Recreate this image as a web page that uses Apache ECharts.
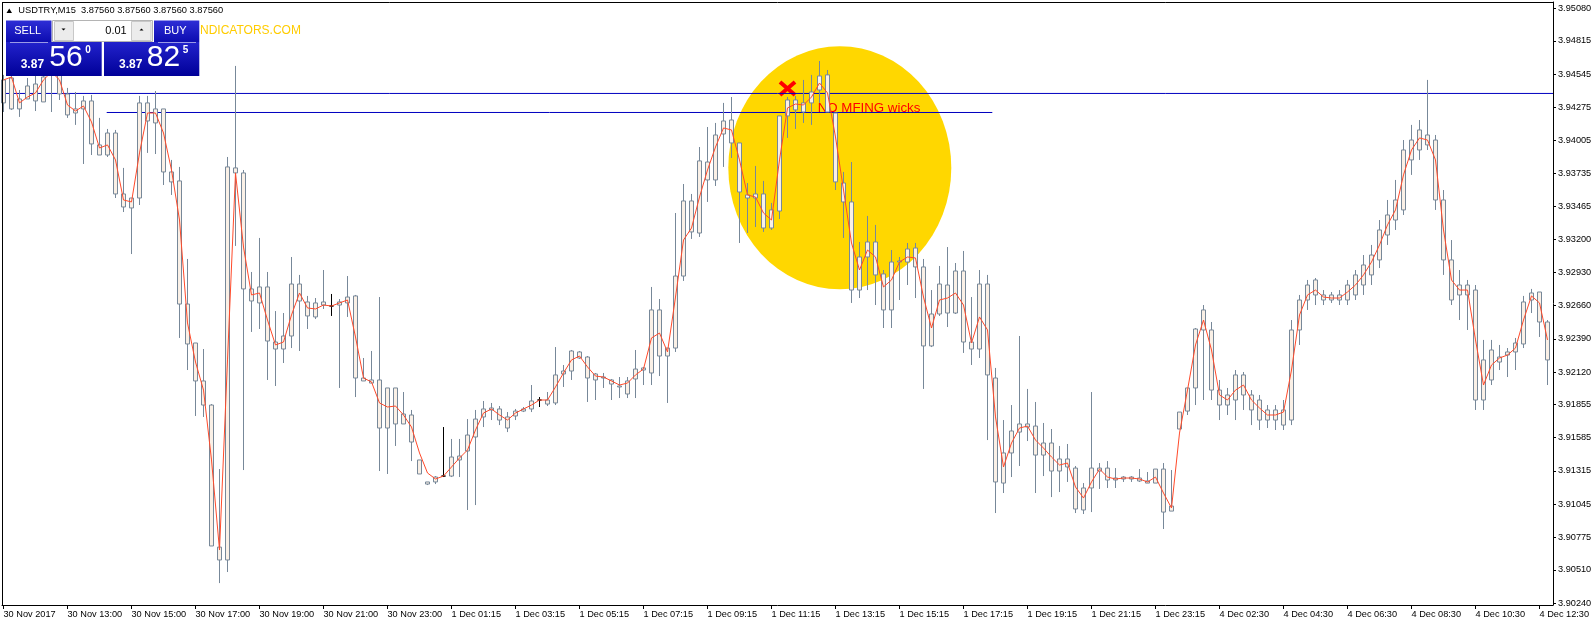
<!DOCTYPE html>
<html><head><meta charset="utf-8">
<script src="https://cdn.jsdelivr.net/npm/echarts@6.0.0/dist/echarts.min.js"></script>
<style>html,body{margin:0;padding:0;background:#fff}#c{width:1596px;height:626px}</style>
</head><body><div id="c"></div>
<script>
const opens = [3.94310,3.94261,3.94261,3.94448,3.94326,3.94318,3.94619,3.94383,3.94383,3.94228,
3.94261,3.94326,3.93886,3.93886,3.94065,3.93569,3.93455,3.93536,3.94310,3.94147,
3.94261,3.93667,3.93675,3.92673,3.92356,3.92047,3.91851,3.90695,3.90590,3.93781,
3.93740,3.92796,3.92682,3.92812,3.92364,3.92307,3.92413,3.92836,3.92690,3.92568,
3.92690,3.92657,3.92665,3.92682,3.92739,3.92047,3.92055,3.92055,3.91664,3.91990,
3.91697,3.91770,3.91404,3.91225,3.91225,3.91273,3.91273,3.91404,3.91477,3.91591,
3.91754,3.91811,3.91819,3.91664,3.91762,3.91802,3.91819,3.91892,3.91859,3.91868,
3.92104,3.92128,3.92283,3.92242,3.92055,3.92071,3.92055,3.92006,3.91941,3.92063,
3.92136,3.92112,3.92625,3.92250,3.92315,3.92901,3.93512,3.93251,3.93829,3.93683,
3.94057,3.94171,3.93984,3.93536,3.93569,3.93569,3.93292,3.93430,3.94204,3.94334,
3.94236,3.94310,3.94415,3.94538,3.94228,3.93658,3.93504,3.92787,3.93056,3.93178,
3.92918,3.92625,3.93015,3.93015,3.93129,3.92975,3.92332,3.92592,3.92828,3.92600,
3.92942,3.92307,3.92307,3.92836,3.92071,3.91216,3.91461,3.91631,3.91697,3.91680,
3.91444,3.91542,3.91314,3.91412,3.91338,3.90997,3.91176,3.91314,3.91338,3.91241,
3.91249,3.91265,3.91257,3.91233,3.91216,3.91330,3.90988,3.91656,3.91802,3.91990,
3.92462,3.92462,3.91973,3.91851,3.91892,3.92096,3.91933,3.91892,3.91729,3.91811,
3.91688,3.91729,3.92462,3.92706,3.92869,3.92747,3.92706,3.92747,3.92706,3.92747,
3.92828,3.92910,3.93032,3.93235,3.93357,3.93439,3.93846,3.93927,3.94049,3.94008,
3.93520,3.93032,3.92747,3.92828,3.92787,3.91892,3.92055,3.92242,3.92258,3.92283,
3.92348,3.92706,3.92771,3.92527];
const closes = [3.94497,3.94513,3.94342,3.94342,3.94464,3.94521,3.94538,3.94538,3.94212,3.94261,
3.94326,3.93976,3.93968,3.94065,3.93569,3.93463,3.93536,3.94310,3.94163,3.94261,
3.93748,3.93748,3.92673,3.92348,3.92047,3.91851,3.90704,3.90590,3.93789,3.93740,
3.92796,3.92698,3.92812,3.92372,3.92307,3.92413,3.92836,3.92698,3.92576,3.92682,
3.92665,3.92657,3.92690,3.92730,3.92071,3.92071,3.92030,3.91664,3.91990,3.91697,
3.91778,3.91550,3.91290,3.91208,3.91265,3.91273,3.91428,3.91436,3.91607,3.91737,
3.91819,3.91827,3.91729,3.91754,3.91802,3.91819,3.91884,3.91892,3.91892,3.92096,
3.92128,3.92291,3.92234,3.92071,3.92104,3.92079,3.92022,3.91998,3.92047,3.92144,
3.92153,3.92625,3.92250,3.92315,3.92901,3.93512,3.93260,3.93838,3.93683,3.94049,
3.94163,3.93984,3.93585,3.93561,3.93536,3.93292,3.93439,3.94204,3.94334,3.94253,
3.94310,3.94399,3.94529,3.94236,3.93667,3.93504,3.92787,3.93056,3.93178,3.92910,
3.92625,3.93015,3.93023,3.93121,3.92975,3.92332,3.92592,3.92836,3.92600,3.92942,
3.92364,3.92364,3.92836,3.92096,3.91225,3.91461,3.91640,3.91697,3.91672,3.91444,
3.91542,3.91314,3.91412,3.91347,3.91005,3.91176,3.91338,3.91338,3.91241,3.91257,
3.91265,3.91249,3.91233,3.91216,3.91330,3.90980,3.91029,3.91794,3.91990,3.92470,
3.92625,3.91973,3.91851,3.91933,3.92096,3.91933,3.91811,3.91729,3.91811,3.91729,
3.91811,3.92462,3.92706,3.92828,3.92747,3.92706,3.92747,3.92706,3.92828,3.92910,
3.92991,3.93072,3.93276,3.93398,3.93520,3.93927,3.94008,3.94090,3.93968,3.93520,
3.93032,3.92706,3.92828,3.92747,3.91892,3.92218,3.92299,3.92201,3.92283,3.92356,
3.92690,3.92763,3.92527,3.92218];
const lows = [3.94236,3.94253,3.94196,3.94342,3.94244,3.94318,3.94236,3.94334,3.94188,3.94131,
3.93813,3.93886,3.93886,3.93870,3.93536,3.93422,3.93080,3.93479,3.93903,3.93894,
3.93642,3.93561,3.92397,3.92136,3.91762,3.91754,3.90704,3.90402,3.90492,3.93146,
3.91322,3.92446,3.92470,3.92055,3.92006,3.92193,3.92315,3.92291,3.92470,3.92551,
3.92633,3.92576,3.91990,3.92568,3.91916,3.92047,3.92030,3.91314,3.91290,3.91518,
3.91697,3.91395,3.91290,3.91200,3.91208,3.91265,3.91265,3.91265,3.90997,3.91037,
3.91672,3.91729,3.91688,3.91631,3.91729,3.91794,3.91794,3.91835,3.91843,3.91851,
3.91998,3.92055,3.92226,3.91876,3.91892,3.91990,3.91892,3.91908,3.91908,3.91908,
3.92014,3.92014,3.92087,3.91868,3.92283,3.92861,3.93203,3.93219,3.93504,3.93634,
3.93789,3.93862,3.93170,3.93251,3.93300,3.93260,3.93276,3.93365,3.94025,3.94098,
3.94147,3.94131,3.94310,3.94236,3.93601,3.93211,3.92682,3.92722,3.92787,3.92665,
3.92478,3.92478,3.92706,3.92828,3.92722,3.91982,3.92323,3.92576,3.92486,3.92592,
3.92275,3.92177,3.92234,3.91566,3.90972,3.91135,3.91265,3.91355,3.91558,3.91135,
3.91273,3.91102,3.91143,3.91225,3.90972,3.90964,3.90980,3.91168,3.91176,3.91176,
3.91225,3.91225,3.91225,3.91216,3.91216,3.90842,3.90988,3.91656,3.91770,3.91851,
3.91892,3.91892,3.91729,3.91770,3.91729,3.91811,3.91688,3.91648,3.91664,3.91648,
3.91648,3.91688,3.92340,3.92625,3.92665,3.92665,3.92682,3.92665,3.92665,3.92706,
3.92747,3.92828,3.92966,3.93154,3.93276,3.93398,3.93724,3.93846,3.93927,3.93439,
3.92910,3.92665,3.92543,3.92462,3.91811,3.91811,3.92014,3.92136,3.92079,3.92136,
3.92315,3.92600,3.92405,3.92014];
const highs = [3.94538,3.94562,3.94415,3.94513,3.94529,3.94578,3.94660,3.94578,3.94432,3.94399,
3.94367,3.94375,3.94188,3.94098,3.94090,3.93781,3.93536,3.94367,3.94367,3.94407,
3.94261,3.93846,3.93789,3.93040,3.92356,3.92307,3.91859,3.91330,3.93870,3.94611,
3.93764,3.92934,3.93211,3.92934,3.92616,3.92600,3.93056,3.92910,3.92739,3.92722,
3.92950,3.92755,3.92714,3.92901,3.92747,3.92234,3.92291,3.92730,3.91990,3.91990,
3.91957,3.91811,3.91404,3.91225,3.91273,3.91672,3.91575,3.91575,3.91737,3.91811,
3.91884,3.91868,3.91843,3.91794,3.91819,3.91835,3.92014,3.91916,3.91957,3.92323,
3.92177,3.92299,3.92291,3.92250,3.92112,3.92112,3.92063,3.92079,3.92079,3.92299,
3.92161,3.92812,3.92714,3.92315,3.93414,3.93650,3.93569,3.93951,3.94114,3.94147,
3.94310,3.94358,3.93984,3.93658,3.93797,3.93675,3.93496,3.94204,3.94358,3.94367,
3.94497,3.94538,3.94651,3.94578,3.94228,3.93748,3.93829,3.93178,3.93390,3.93317,
3.92950,3.93113,3.93056,3.93170,3.93170,3.93040,3.92787,3.92983,3.93137,3.93007,
3.93105,3.92730,3.92950,3.92910,3.92153,3.91729,3.91851,3.92413,3.91982,3.91876,
3.91705,3.91656,3.91518,3.91534,3.91355,3.91216,3.91957,3.91379,3.91395,3.91338,
3.91273,3.91273,3.91330,3.91306,3.91330,3.91379,3.91322,3.91794,3.91990,3.92478,
3.92665,3.92527,3.92055,3.91990,3.92136,3.92120,3.91973,3.91933,3.91851,3.91851,
3.91892,3.92543,3.92747,3.92869,3.92885,3.92787,3.92771,3.92787,3.92869,3.92950,
3.93072,3.93154,3.93357,3.93520,3.93683,3.94008,3.94131,3.94171,3.94497,3.94049,
3.93601,3.93194,3.92950,3.92869,3.92828,3.92381,3.92381,3.92340,3.92315,3.92397,
3.92739,3.92796,3.92771,3.92543];
const maValues = [3.94497,3.94521,3.94310,3.94358,3.94391,3.94497,3.94562,3.94497,3.94293,3.94244,
3.94285,3.94155,3.93943,3.93968,3.93846,3.93520,3.93504,3.93903,3.94228,3.94228,
3.94065,3.93764,3.93357,3.92519,3.92201,3.91973,3.91404,3.90671,3.92218,3.93740,
3.93137,3.92747,3.92763,3.92543,3.92340,3.92364,3.92584,3.92763,3.92641,3.92633,
3.92665,3.92657,3.92682,3.92706,3.92405,3.92071,3.92039,3.91868,3.91835,3.91843,
3.91770,3.91672,3.91461,3.91298,3.91249,3.91273,3.91347,3.91420,3.91485,3.91648,
3.91786,3.91819,3.91770,3.91729,3.91786,3.91819,3.91851,3.91892,3.91892,3.91998,
3.92112,3.92218,3.92250,3.92161,3.92087,3.92079,3.92047,3.92014,3.92030,3.92096,
3.92144,3.92397,3.92437,3.92283,3.92730,3.93194,3.93292,3.93544,3.93764,3.93951,
3.94106,3.94090,3.93846,3.93561,3.93544,3.93414,3.93357,3.93846,3.94269,3.94301,
3.94293,3.94358,3.94472,3.94391,3.94033,3.93601,3.93170,3.92950,3.93113,3.93056,
3.92812,3.92869,3.93015,3.93056,3.93048,3.92730,3.92478,3.92706,3.92722,3.92763,
3.92665,3.92356,3.92568,3.92462,3.91754,3.91347,3.91542,3.91664,3.91680,3.91566,
3.91501,3.91428,3.91363,3.91379,3.91184,3.91094,3.91225,3.91330,3.91265,3.91249,
3.91257,3.91257,3.91249,3.91225,3.91265,3.91135,3.91013,3.91623,3.91973,3.92340,
3.92543,3.92299,3.91933,3.91892,3.91973,3.92014,3.91892,3.91827,3.91770,3.91770,
3.91794,3.92136,3.92584,3.92747,3.92787,3.92730,3.92722,3.92722,3.92771,3.92828,
3.92910,3.93015,3.93154,3.93317,3.93439,3.93724,3.93927,3.94025,3.94008,3.93846,
3.93276,3.92869,3.92787,3.92787,3.92381,3.92014,3.92177,3.92234,3.92258,3.92315,
3.92543,3.92739,3.92682,3.92381];
const priceTicks = [3.90240,3.90510,3.90775,3.91045,3.91315,3.91585,3.91855,3.92120,3.92390,3.92660,
3.92930,3.93200,3.93465,3.93735,3.94005,3.94275,3.94545,3.94815,3.95080];
const timeLabels = ['30 Nov 2017','30 Nov 13:00','30 Nov 15:00','30 Nov 17:00','30 Nov 19:00','30 Nov 21:00',
'30 Nov 23:00','1 Dec 01:15','1 Dec 03:15','1 Dec 05:15','1 Dec 07:15','1 Dec 09:15','1 Dec 11:15',
'1 Dec 13:15','1 Dec 15:15','1 Dec 17:15','1 Dec 19:15','1 Dec 21:15','1 Dec 23:15','4 Dec 02:30',
'4 Dec 04:30','4 Dec 06:30','4 Dec 08:30','4 Dec 10:30','4 Dec 12:30'];
const barsPerLabel = 8;
const hLinePrice = 3.94387;
const trendPrice = 3.94232;
const trendStartBar = 12.9, trendEndBar = 123.6;

const X_MIN = -0.1875, X_MAX = 193.6875;
const Y_MIN = 3.902236, Y_MAX = 3.951313;
const FONT = '"Liberation Sans", Arial, sans-serif';

const tickIdx = timeLabels.map((_, i) => i * barsPerLabel);
const candleData = opens.map((o, i) => [i, o, closes[i], lows[i], highs[i]]);
const maData = maValues.map((v, i) => [i, v]);

const chart = echarts.init(document.getElementById('c'), null, {renderer: 'canvas'});
const grad = (a, b) => new echarts.graphic.LinearGradient(0, 0, 0, 1, [{offset: 0, color: a}, {offset: 1, color: b}]);
const txt = (x, y, text, size, opts) => Object.assign({
  type: 'text', x, y, z: 20,
  style: Object.assign({text, fill: '#fff', fontSize: size, fontFamily: FONT, verticalAlign: 'middle', align: 'left'}, (opts && opts.style) || {})
}, opts && opts.z ? {z: opts.z} : {});

chart.setOption({
  backgroundColor: '#ffffff',
  animation: false,
  grid: {left: 2, right: 43, top: 2, bottom: 21, show: false},
  xAxis: {
    type: 'value', min: X_MIN, max: X_MAX,
    axisLine: {show: true, onZero: false, lineStyle: {color: '#000', width: 1}},
    axisTick: {show: true, inside: false, length: 4, customValues: tickIdx, lineStyle: {color: '#000'}},
    axisLabel: {show: true, customValues: tickIdx, margin: 5, align: 'left', color: '#000', fontSize: 9.2, fontFamily: FONT,
      formatter: v => timeLabels[Math.round(v / barsPerLabel)] || ''},
    splitLine: {show: false}
  },
  yAxis: {
    type: 'value', position: 'right', min: Y_MIN, max: Y_MAX, scale: true,
    axisLine: {show: true, onZero: false, lineStyle: {color: '#000', width: 1}},
    axisTick: {show: true, inside: false, length: 3, customValues: priceTicks, lineStyle: {color: '#000'}},
    axisLabel: {show: true, customValues: priceTicks, margin: 5, color: '#000', fontSize: 9.2, fontFamily: FONT,
      formatter: v => v.toFixed(5)},
    splitLine: {show: false}
  },
  series: [
    {type: 'line', name: 'hline', z: 1, silent: true, symbol: 'none', data: [[X_MIN, hLinePrice], [X_MAX, hLinePrice]],
      lineStyle: {color: '#0000c0', width: 1}},
    {type: 'line', name: 'trend', z: 1, silent: true, symbol: 'none', data: [[trendStartBar, trendPrice], [trendEndBar, trendPrice]],
      lineStyle: {color: '#0000c0', width: 1}},
    {type: 'candlestick', name: 'USDTRY', z: 2, barWidth: 4, data: candleData, encode: {x: 0, y: [1, 2, 3, 4]},
      itemStyle: {color: '#faf0e6', color0: '#faf0e6', borderColor: '#778899', borderColor0: '#778899', borderColorDoji: '#000000', borderWidth: 1}},
    {type: 'line', name: 'MA', z: 3, silent: true, symbol: 'none', showSymbol: false, data: maData,
      lineStyle: {color: '#ff4a2a', width: 1}}
  ],
  graphic: [
    {type: 'circle', x: 839.8, y: 167.7, scaleY: 1.09, z: 0, silent: true, shape: {cx: 0, cy: 0, r: 111.5}, style: {fill: '#ffd700'}},
    {type: 'line', z: 1, shape: {x1: 780, y1: 82, x2: 795, y2: 95}, style: {stroke: '#ff0000', lineWidth: 4}},
    {type: 'line', z: 1, shape: {x1: 795, y1: 82, x2: 780, y2: 95}, style: {stroke: '#ff0000', lineWidth: 4}},
    {type: 'text', x: 817.7, y: 108.7, z: 1, style: {text: 'NO MFING wicks', fill: '#ff0000', fontSize: 13.3, fontFamily: FONT, verticalAlign: 'middle'}},
    {type: 'line', z: 5, shape: {x1: 2.5, y1: 2, x2: 2.5, y2: 606}, style: {stroke: '#000', lineWidth: 1}},
    {type: 'line', z: 5, shape: {x1: 2, y1: 2.5, x2: 1553, y2: 2.5}, style: {stroke: '#000', lineWidth: 1}},
    {type: 'polygon', z: 20, shape: {points: [[6.5, 13], [12, 13], [9.25, 8.5]]}, style: {fill: '#000'}},
    txt(18.3, 10.3, 'USDTRY,M15  3.87560 3.87560 3.87560 3.87560', 9.3, {style: {fill: '#000'}}),
    txt(200, 30.5, 'NDICATORS.COM', 12, {style: {fill: '#ffcc00'}}),
    {type: 'rect', z: 19, shape: {x: 6, y: 20.5, width: 45.5, height: 21.5}, style: {fill: grad('#2e2ed6', '#0c0cb0')}},
    {type: 'rect', z: 19, shape: {x: 154, y: 20.5, width: 45.3, height: 21.5}, style: {fill: grad('#2e2ed6', '#0c0cb0')}},
    {type: 'rect', z: 19, shape: {x: 52.5, y: 20.5, width: 100, height: 21}, style: {fill: '#fff', stroke: '#b4b4b4', lineWidth: 1}},
    {type: 'rect', z: 19, shape: {x: 54.5, y: 21.5, width: 19, height: 19}, style: {fill: '#ececec', stroke: '#c8c8c8', lineWidth: 1}},
    {type: 'rect', z: 19, shape: {x: 131.5, y: 21.5, width: 19.5, height: 19}, style: {fill: '#ececec', stroke: '#c8c8c8', lineWidth: 1}},
    {type: 'polygon', z: 20, shape: {points: [[61.5, 28.5], [65.5, 28.5], [63.5, 30.5]]}, style: {fill: '#000'}},
    {type: 'polygon', z: 20, shape: {points: [[139.5, 30.5], [143.5, 30.5], [141.5, 28.5]]}, style: {fill: '#000'}},
    txt(126.7, 30.5, '0.01', 11, {style: {fill: '#000', align: 'right'}}),
    txt(27.7, 31, 'SELL', 11, {style: {align: 'center'}}),
    txt(175.2, 31, 'BUY', 11, {style: {align: 'center'}}),
    {type: 'rect', z: 19, shape: {x: 6, y: 42, width: 95.7, height: 34}, style: {fill: grad('#2222cc', '#000098')}},
    {type: 'rect', z: 19, shape: {x: 104, y: 42, width: 95.3, height: 34}, style: {fill: grad('#2222cc', '#000098')}},
    {type: 'line', z: 20, shape: {x1: 10, y1: 42.5, x2: 48, y2: 42.5}, style: {stroke: '#9a9ae6', lineWidth: 1}},
    {type: 'line', z: 20, shape: {x1: 158, y1: 42.5, x2: 196, y2: 42.5}, style: {stroke: '#9a9ae6', lineWidth: 1}},
    txt(20.7, 64.7, '3.87', 12, {style: {fontWeight: 'bold'}}),
    txt(49.3, 57.5, '56', 30),
    txt(85.3, 50.7, '0', 10, {style: {fontWeight: 'bold'}}),
    txt(119, 64.7, '3.87', 12, {style: {fontWeight: 'bold'}}),
    txt(146.7, 57.5, '82', 30),
    txt(182.7, 50.7, '5', 10, {style: {fontWeight: 'bold'}})
  ]
});
</script>
</body></html>
